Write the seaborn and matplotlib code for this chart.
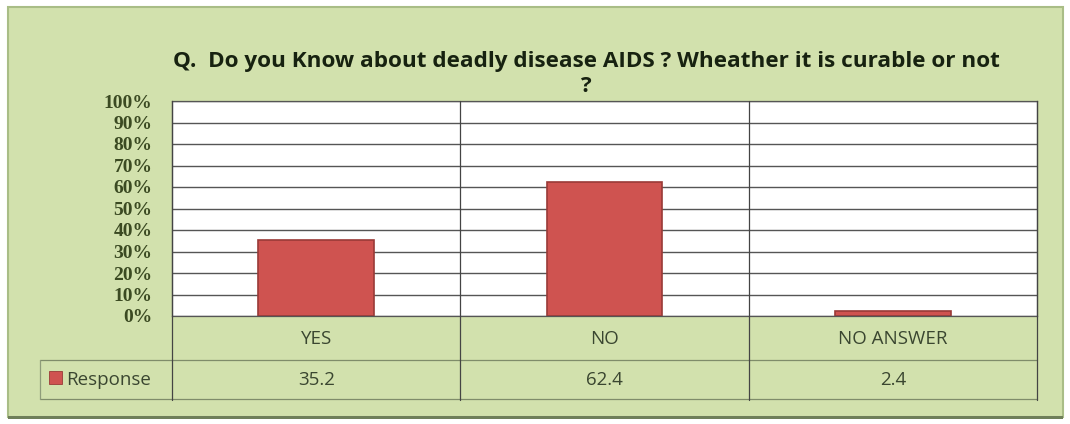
import seaborn as sns
import pandas as pd
import matplotlib.pyplot as plt
import matplotlib.patches as mpatches
from matplotlib.ticker import PercentFormatter

categories = ['YES', 'NO', 'NO ANSWER']
response = [35.2, 62.4, 2.4]
series_name = 'Response'
title = 'Q.  Do you Know about deadly disease AIDS ? Wheather it is curable or not\n?'


def main():
    sns.set_style('white')
    plt.rcParams['font.family'] = ['Open Sans', 'DejaVu Sans']

    W, H = 1070, 424
    fig = plt.figure(figsize=(W / 100, H / 100), dpi=100)
    fig.patch.set_facecolor('white')

    # green chart panel
    panel = mpatches.Rectangle((8 / W, 1 - 417 / H), 1055 / W, 410 / H,
                               transform=fig.transFigure, facecolor='#d2e1ad',
                               edgecolor='#a9bd86', linewidth=1.5, zorder=-10)
    fig.patches.append(panel)
    shadow = mpatches.Rectangle((8 / W, 1 - 419 / H), 1055 / W, 3 / H,
                                transform=fig.transFigure, facecolor='#6f7f5a',
                                edgecolor='none', zorder=-10)
    fig.patches.append(shadow)

    ax = fig.add_axes([172 / W, 1 - 316 / H, 865 / W, 215 / H])
    ax.set_facecolor('white')

    df = pd.DataFrame({'category': categories, 'value': response})
    sns.barplot(data=df, x='category', y='value', ax=ax, color='#cf5350',
                width=0.4, edgecolor='#9a3a37', linewidth=1.2, saturation=1)

    ax.set_ylim(0, 100)
    ax.set_xlim(-0.5, len(categories) - 0.5)
    ax.set_yticks(range(0, 101, 10))
    ax.yaxis.set_major_formatter(PercentFormatter(decimals=0))
    ax.grid(axis='y', color='#555555', linewidth=1.0)
    ax.set_axisbelow(True)
    for s in ax.spines.values():
        s.set_color('#555555')
        s.set_linewidth(0.9)
    ax.tick_params(axis='y', length=5, color='#555555', pad=9)
    for lab in ax.get_yticklabels():
        lab.set_family(['Liberation Serif'])
        lab.set_fontweight('bold')
        lab.set_fontsize(14)
        lab.set_color('#3b4a22')
    ax.set_xticks([])
    ax.set_xlabel('')
    ax.set_ylabel('')

    # vertical separators between categories (run down through the table)
    tr = ax.get_xaxis_transform()
    for i in range(len(categories) + 1):
        x = i - 0.5
        ax.plot([x, x], [-0.39, 1.0], transform=tr, color='#444444',
                lw=0.9, clip_on=False, zorder=3)

    # data table below the axes
    row1, row2 = -0.2047, -0.386
    left_x = -0.5 - 132 / 865 * 3
    for y in [row1, row2]:
        ax.plot([left_x, 2.5], [y, y], transform=tr, color='#7f8c6a',
                lw=0.9, clip_on=False)
    ax.plot([left_x, left_x], [row1, row2], transform=tr, color='#8f9c7a',
            lw=0.9, clip_on=False)

    for i, (cat, val) in enumerate(zip(categories, response)):
        ax.text(i, -0.105, cat, transform=tr, ha='center', va='center',
                fontsize=13.5, color='#3a4630')
        ax.text(i, (row1 + row2) / 2, f'{val}', transform=tr, ha='center',
                va='center', fontsize=13.5, color='#3a4630')

    ax.add_patch(mpatches.Rectangle((left_x + 0.03, -0.315), 0.045, 0.06,
                                    transform=tr, facecolor='#cf5350',
                                    edgecolor='#9a3a37', lw=0.6, clip_on=False))
    ax.text(left_x + 0.09, (row1 + row2) / 2, series_name, transform=tr,
            ha='left', va='center', fontsize=13.5, color='#3a4630')

    fig.text(586 / W, 1 - 74 / H, title, ha='center', va='center',
             fontsize=16.2, fontweight='bold', color='#172210', linespacing=1.3)

    fig.savefig('out.png', dpi=100, facecolor=fig.get_facecolor())


if __name__ == "__main__":
    main()
